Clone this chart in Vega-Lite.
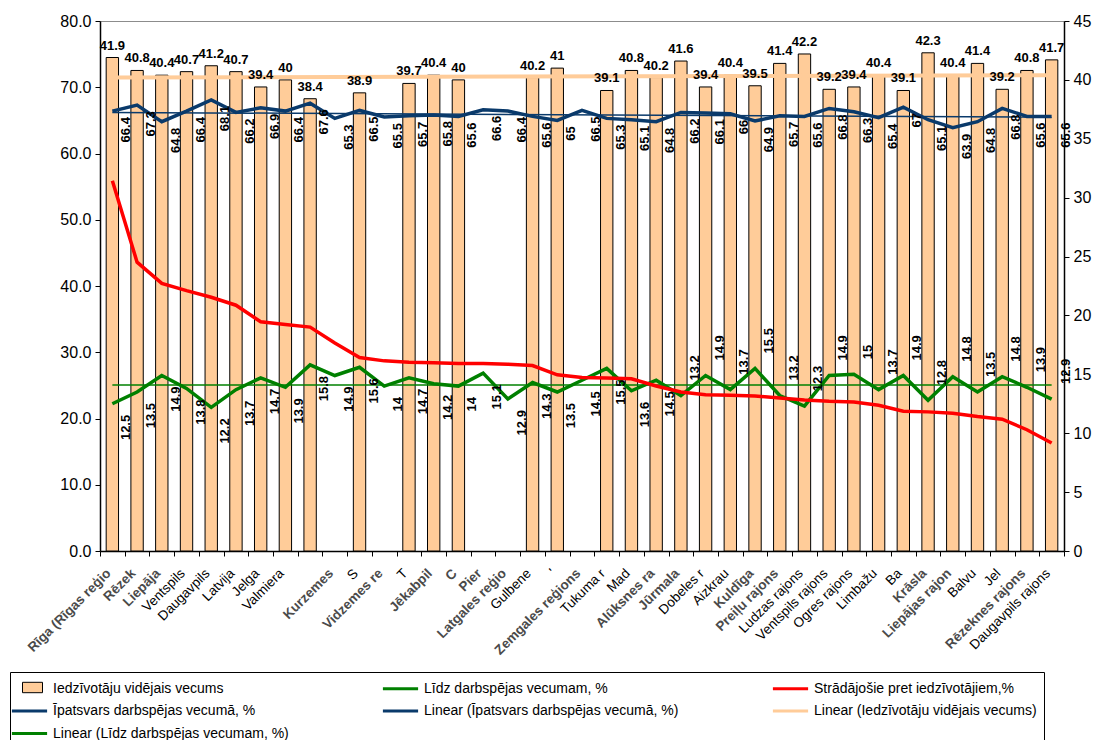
{
  "$schema": "https://vega.github.io/schema/vega-lite/v6.json",
  "width": 964,
  "height": 530,
  "autosize": {"type": "none"},
  "padding": {"left": 100, "top": 21, "right": 33, "bottom": 189},
  "config": {
    "font": "Liberation Sans",
    "view": {"stroke": "#8c8c8c"},
    "axis": {"grid": false, "domainColor": "#000", "tickColor": "#000", "labelColor": "#000", "domainWidth": 1.5}
  },
  "params": [
    {"name": "names", "value": ["Rīga (Rīgas reģions)", "Rēzekne", "Liepāja", "Ventspils", "Daugavpils", "Latvija", "Jelgava", "Valmieras rajons", "Rīgas rajons", "Kurzemes reģions", "Saldus rajons", "Vidzemes reģions", "Talsu rajons", "Jēkabpils rajons", "Cēsu rajons", "Pierīgas reģions", "Latgales reģions", "Gulbenes rajons", "Valkas rajons", "Zemgales reģions", "Tukuma rajons", "Madonas rajons", "Alūksnes rajons", "Jūrmala", "Dobeles rajons", "Aizkraukles rajons", "Kuldīgas rajons", "Preiļu rajons", "Ludzas rajons", "Ventspils rajons", "Ogres rajons", "Limbažu rajons", "Bauskas rajons", "Krāslavas rajons", "Liepājas rajons", "Balvu rajons", "Jelgavas rajons", "Rēzeknes rajons", "Daugavpils rajons"]},
    {"name": "vis", "value": [
      "Rīga (Rīgas reģio\u00a0\u00a0\u00a0\u00a0\u00a0\u00a0",
      "Rēzek\u00a0\u00a0\u00a0\u00a0\u00a0",
      "Liepāja",
      "Ventspils",
      "Daugavpils",
      "Latvija",
      "Jelga\u00a0\u00a0\u00a0\u00a0\u00a0",
      "Valmiera\u00a0\u00a0\u00a0\u00a0\u00a0\u00a0\u00a0\u00a0\u00a0\u00a0\u00a0\u00a0\u00a0\u00a0",
      "",
      "Kurzemes\u00a0\u00a0\u00a0\u00a0\u00a0\u00a0\u00a0\u00a0\u00a0\u00a0\u00a0\u00a0\u00a0",
      "S\u00a0\u00a0\u00a0\u00a0\u00a0\u00a0\u00a0\u00a0\u00a0\u00a0\u00a0\u00a0\u00a0\u00a0\u00a0\u00a0\u00a0\u00a0\u00a0\u00a0\u00a0",
      "Vidzemes re\u00a0\u00a0\u00a0\u00a0\u00a0\u00a0\u00a0\u00a0",
      "T\u00a0\u00a0\u00a0\u00a0\u00a0\u00a0\u00a0\u00a0\u00a0\u00a0\u00a0\u00a0\u00a0\u00a0\u00a0\u00a0\u00a0\u00a0\u00a0",
      "Jēkabpil\u00a0\u00a0\u00a0\u00a0\u00a0\u00a0\u00a0\u00a0\u00a0\u00a0\u00a0\u00a0",
      "C\u00a0\u00a0\u00a0\u00a0\u00a0\u00a0\u00a0\u00a0\u00a0\u00a0\u00a0\u00a0\u00a0\u00a0\u00a0\u00a0\u00a0\u00a0\u00a0",
      "Pier\u00a0\u00a0\u00a0\u00a0\u00a0\u00a0\u00a0\u00a0\u00a0\u00a0\u00a0\u00a0\u00a0\u00a0\u00a0\u00a0\u00a0\u00a0\u00a0",
      "Latgales reģio\u00a0\u00a0\u00a0",
      "Gulbene\u00a0\u00a0\u00a0\u00a0\u00a0\u00a0\u00a0\u00a0\u00a0\u00a0\u00a0\u00a0",
      "'\u00a0\u00a0\u00a0\u00a0\u00a0\u00a0\u00a0\u00a0\u00a0\u00a0\u00a0\u00a0\u00a0\u00a0\u00a0\u00a0\u00a0\u00a0\u00a0\u00a0\u00a0\u00a0",
      "Zemgales reģions",
      "Tukuma r\u00a0\u00a0\u00a0\u00a0\u00a0\u00a0\u00a0\u00a0\u00a0\u00a0",
      "Mad\u00a0\u00a0\u00a0\u00a0\u00a0\u00a0\u00a0\u00a0\u00a0\u00a0\u00a0\u00a0\u00a0\u00a0\u00a0\u00a0\u00a0\u00a0\u00a0\u00a0",
      "Alūksnes ra\u00a0\u00a0\u00a0\u00a0\u00a0\u00a0",
      "Jūrmala",
      "Dobeles r\u00a0\u00a0\u00a0\u00a0\u00a0\u00a0\u00a0\u00a0\u00a0",
      "Aizkrau\u00a0\u00a0\u00a0\u00a0\u00a0\u00a0\u00a0\u00a0\u00a0\u00a0\u00a0\u00a0\u00a0\u00a0\u00a0\u00a0\u00a0\u00a0",
      "Kuldīga\u00a0\u00a0\u00a0\u00a0\u00a0\u00a0\u00a0\u00a0\u00a0\u00a0\u00a0\u00a0\u00a0",
      "Preiļu rajons",
      "Ludzas rajons",
      "Ventspils rajons",
      "Ogres rajons",
      "Limbažu\u00a0\u00a0\u00a0\u00a0\u00a0\u00a0\u00a0\u00a0\u00a0",
      "Ba\u00a0\u00a0\u00a0\u00a0\u00a0\u00a0\u00a0\u00a0\u00a0\u00a0\u00a0\u00a0\u00a0\u00a0\u00a0\u00a0\u00a0\u00a0",
      "Krāsla\u00a0\u00a0\u00a0\u00a0\u00a0\u00a0\u00a0\u00a0\u00a0\u00a0\u00a0\u00a0\u00a0\u00a0\u00a0\u00a0\u00a0",
      "Liepājas rajon\u00a0",
      "Balvu\u00a0\u00a0\u00a0\u00a0\u00a0\u00a0\u00a0\u00a0\u00a0\u00a0",
      "Jel\u00a0\u00a0\u00a0\u00a0\u00a0\u00a0\u00a0\u00a0\u00a0\u00a0\u00a0\u00a0\u00a0\u00a0\u00a0\u00a0\u00a0\u00a0",
      "Rēzeknes rajons",
      "Daugavpils rajons"
    ]},
    {"name": "bold", "value": [0, 1, 2, 9, 11, 13, 14, 15, 16, 19, 22, 23, 26, 27, 33, 34, 37]}
  ],
  "data": {
    "values": [
      {"nr": 1, "vieta": "Rīga (Rīgas reģions)", "vecums": 41.9, "darbsp": 66.4, "lidz": 12.5, "strad": 55.9, "lin_vecums": 40.2, "lin_darbsp": 66.2, "lin_lidz": 14.1},
      {"nr": 2, "vieta": "Rēzekne", "vecums": 40.8, "darbsp": 67.3, "lidz": 13.5, "strad": 43.6},
      {"nr": 3, "vieta": "Liepāja", "vecums": 40.4, "darbsp": 64.8, "lidz": 14.9, "strad": 40.4},
      {"nr": 4, "vieta": "Ventspils", "vecums": 40.7, "darbsp": 66.4, "lidz": 13.8, "strad": 39.3},
      {"nr": 5, "vieta": "Daugavpils", "vecums": 41.2, "darbsp": 68.1, "lidz": 12.2, "strad": 38.3},
      {"nr": 6, "vieta": "Latvija", "vecums": 40.7, "darbsp": 66.2, "lidz": 13.7, "strad": 37.1},
      {"nr": 7, "vieta": "Jelgava", "vecums": 39.4, "darbsp": 66.9, "lidz": 14.7, "strad": 34.6},
      {"nr": 8, "vieta": "Valmieras rajons", "vecums": 40, "darbsp": 66.4, "lidz": 13.9, "strad": 34.2},
      {"nr": 9, "vieta": "Rīgas rajons", "vecums": 38.4, "darbsp": 67.6, "lidz": 15.8, "strad": 33.8},
      {"nr": 10, "vieta": "Kurzemes reģions", "vecums": null, "darbsp": 65.3, "lidz": 14.9, "strad": 31.4},
      {"nr": 11, "vieta": "Saldus rajons", "vecums": 38.9, "darbsp": 66.5, "lidz": 15.6, "strad": 29.2},
      {"nr": 12, "vieta": "Vidzemes reģions", "vecums": null, "darbsp": 65.5, "lidz": 14, "strad": 28.7},
      {"nr": 13, "vieta": "Talsu rajons", "vecums": 39.7, "darbsp": 65.7, "lidz": 14.7, "strad": 28.5},
      {"nr": 14, "vieta": "Jēkabpils rajons", "vecums": 40.4, "darbsp": 65.8, "lidz": 14.2, "strad": 28.4},
      {"nr": 15, "vieta": "Cēsu rajons", "vecums": 40, "darbsp": 65.6, "lidz": 14, "strad": 28.3},
      {"nr": 16, "vieta": "Pierīgas reģions", "vecums": null, "darbsp": 66.6, "lidz": 15.1, "strad": 28.3},
      {"nr": 17, "vieta": "Latgales reģions", "vecums": null, "darbsp": 66.4, "lidz": 12.9, "strad": 28.2},
      {"nr": 18, "vieta": "Gulbenes rajons", "vecums": 40.2, "darbsp": 65.6, "lidz": 14.3, "strad": 28.0},
      {"nr": 19, "vieta": "Valkas rajons", "vecums": 41, "darbsp": 65, "lidz": 13.5, "strad": 26.6},
      {"nr": 20, "vieta": "Zemgales reģions", "vecums": null, "darbsp": 66.5, "lidz": 14.5, "strad": 26.2},
      {"nr": 21, "vieta": "Tukuma rajons", "vecums": 39.1, "darbsp": 65.3, "lidz": 15.5, "strad": 26.1},
      {"nr": 22, "vieta": "Madonas rajons", "vecums": 40.8, "darbsp": 65.1, "lidz": 13.6, "strad": 26.0},
      {"nr": 23, "vieta": "Alūksnes rajons", "vecums": 40.2, "darbsp": 64.8, "lidz": 14.5, "strad": 24.9},
      {"nr": 24, "vieta": "Jūrmala", "vecums": 41.6, "darbsp": 66.2, "lidz": 13.2, "strad": 24.0},
      {"nr": 25, "vieta": "Dobeles rajons", "vecums": 39.4, "darbsp": 66.1, "lidz": 14.9, "strad": 23.6},
      {"nr": 26, "vieta": "Aizkraukles rajons", "vecums": 40.4, "darbsp": 66, "lidz": 13.7, "strad": 23.5},
      {"nr": 27, "vieta": "Kuldīgas rajons", "vecums": 39.5, "darbsp": 64.9, "lidz": 15.5, "strad": 23.4},
      {"nr": 28, "vieta": "Preiļu rajons", "vecums": 41.4, "darbsp": 65.7, "lidz": 13.2, "strad": 23.1},
      {"nr": 29, "vieta": "Ludzas rajons", "vecums": 42.2, "darbsp": 65.6, "lidz": 12.3, "strad": 22.8},
      {"nr": 30, "vieta": "Ventspils rajons", "vecums": 39.2, "darbsp": 66.8, "lidz": 14.9, "strad": 22.6},
      {"nr": 31, "vieta": "Ogres rajons", "vecums": 39.4, "darbsp": 66.3, "lidz": 15, "strad": 22.5},
      {"nr": 32, "vieta": "Limbažu rajons", "vecums": 40.4, "darbsp": 65.4, "lidz": 13.7, "strad": 22.0},
      {"nr": 33, "vieta": "Bauskas rajons", "vecums": 39.1, "darbsp": 67, "lidz": 14.9, "strad": 21.1},
      {"nr": 34, "vieta": "Krāslavas rajons", "vecums": 42.3, "darbsp": 65.1, "lidz": 12.8, "strad": 21.0},
      {"nr": 35, "vieta": "Liepājas rajons", "vecums": 40.4, "darbsp": 63.9, "lidz": 14.8, "strad": 20.8},
      {"nr": 36, "vieta": "Balvu rajons", "vecums": 41.4, "darbsp": 64.8, "lidz": 13.5, "strad": 20.3},
      {"nr": 37, "vieta": "Jelgavas rajons", "vecums": 39.2, "darbsp": 66.8, "lidz": 14.8, "strad": 19.9},
      {"nr": 38, "vieta": "Rēzeknes rajons", "vecums": 40.8, "darbsp": 65.6, "lidz": 13.9, "strad": 18.3},
      {"nr": 39, "vieta": "Daugavpils rajons", "vecums": 41.7, "darbsp": 65.6, "lidz": 12.9, "strad": 16.3, "lin_vecums": 40.4, "lin_darbsp": 65.5, "lin_lidz": 14.1}
    ]
  },
  "encoding": {
    "x": {
      "field": "vieta",
      "type": "nominal",
      "sort": null,
      "scale": {
        "type": "band", "paddingInner": 0, "paddingOuter": 0,
        "domain": ["Rīga (Rīgas reģions)", "Rēzekne", "Liepāja", "Ventspils", "Daugavpils", "Latvija", "Jelgava", "Valmieras rajons", "Rīgas rajons", "Kurzemes reģions", "Saldus rajons", "Vidzemes reģions", "Talsu rajons", "Jēkabpils rajons", "Cēsu rajons", "Pierīgas reģions", "Latgales reģions", "Gulbenes rajons", "Valkas rajons", "Zemgales reģions", "Tukuma rajons", "Madonas rajons", "Alūksnes rajons", "Jūrmala", "Dobeles rajons", "Aizkraukles rajons", "Kuldīgas rajons", "Preiļu rajons", "Ludzas rajons", "Ventspils rajons", "Ogres rajons", "Limbažu rajons", "Bauskas rajons", "Krāslavas rajons", "Liepājas rajons", "Balvu rajons", "Jelgavas rajons", "Rēzeknes rajons", "Daugavpils rajons"]
      },
      "axis": {
        "title": null,
        "labelAngle": -45,
        "labelAlign": "right",
        "labelBaseline": "top",
        "labelPadding": 10,
        "labelOffset": -9,
        "tickBand": "extent",
        "tickSize": 5,
        "labelFontSize": 13.5,
        "labelOverlap": false,
        "labelLimit": 400,
        "labelExpr": "vis[indexof(names, datum.value)]",
        "labelFontWeight": {"condition": {"test": "indexof(bold, indexof(names, datum.value)) >= 0", "value": "bold"}, "value": "normal"},
        "labelColor": {"condition": {"test": "indexof(bold, indexof(names, datum.value)) >= 0", "value": "#4a4a4a"}, "value": "#000"}
      }
    }
  },
  "layer": [
    {
      "layer": [
        {
          "transform": [{"filter": "isValid(datum.vecums)"}],
          "mark": {"type": "bar", "width": {"band": 0.5}, "stroke": "#000", "strokeWidth": 1},
          "encoding": {
            "y": {"field": "vecums", "type": "quantitative", "scale": {"domain": [0, 45]},
              "axis": {"orient": "right", "title": null, "values": [0, 5, 10, 15, 20, 25, 30, 35, 40, 45], "format": "d", "labelFontSize": 16, "tickSize": 5, "labelPadding": 4}},
            "fill": {
              "datum": "Iedzīvotāju vidējais vecums",
              "type": "nominal",
              "scale": {"domain": ["Iedzīvotāju vidējais vecums"], "range": ["#FFCC99"]},
              "legend": {
                "title": null,
                "orient": "none",
                "legendX": -90,
                "legendY": 651,
                "padding": 7,
                "symbolSize": 256,
                "symbolOffset": 3,
                "symbolType": "M-0.75,-0.65H1.75V0.65H-0.75Z",
                "symbolStrokeColor": "#000",
                "symbolStrokeWidth": 1,
                "labelOffset": 14,
                "labelFontSize": 14,
                "labelExpr": "''"
              }
            }
          }
        },
        {
          "mark": {"type": "line", "strokeWidth": 3.5},
          "encoding": {
            "y": {"field": "lidz", "type": "quantitative", "scale": {"domain": [0, 45]},
              "axis": {"orient": "right", "title": null, "values": [0, 5, 10, 15, 20, 25, 30, 35, 40, 45], "format": "d", "labelFontSize": 16, "tickSize": 5, "labelPadding": 4}},
            "stroke": {"datum": "Līdz darbspējas vecumam, %", "type": "nominal",
              "scale": {
                "domain": ["Iedzīvotāju vidējais vecums", "Līdz darbspējas vecumam, %", "Strādājošie pret iedzīvotājiem,%", "Īpatsvars darbspējas vecumā, %", "Linear (Īpatsvars darbspējas vecumā, %)", "Linear (Iedzīvotāju vidējais vecums)", "Linear (Līdz darbspējas vecumam, %)"],
                "range": ["transparent", "#008000", "#FF0000", "#0A3A6B", "#0A3A6B", "#FFCC99", "#008000"]
              },
              "legend": {
                "title": null,
                "orient": "none",
                "legendX": -90,
                "legendY": 651,
                "direction": "horizontal",
                "columns": 3,
                "columnPadding": 87,
                "rowPadding": 5.5,
                "symbolSize": 256,
                "symbolOffset": 3,
                "symbolType": "M-2.2,0H2.2",
                "symbolStrokeWidth": 3,
                "labelOffset": 14,
                "labelFontSize": 14,
                "labelColor": "#000",
                "labelLimit": 400,
                "strokeColor": "#000",
                "padding": 7
              }
            }
          }
        },
        {
          "transform": [{"filter": "isValid(datum.lin_vecums)"}],
          "mark": {"type": "line", "strokeWidth": 4},
          "encoding": {
            "y": {"field": "lin_vecums", "type": "quantitative", "scale": {"domain": [0, 45]},
              "axis": {"orient": "right", "title": null, "values": [0, 5, 10, 15, 20, 25, 30, 35, 40, 45], "format": "d", "labelFontSize": 16, "tickSize": 5, "labelPadding": 4}},
            "stroke": {"datum": "Linear (Iedzīvotāju vidējais vecums)", "type": "nominal", "legend": null,
              "scale": {
                "domain": ["Iedzīvotāju vidējais vecums", "Līdz darbspējas vecumam, %", "Strādājošie pret iedzīvotājiem,%", "Īpatsvars darbspējas vecumā, %", "Linear (Īpatsvars darbspējas vecumā, %)", "Linear (Iedzīvotāju vidējais vecums)", "Linear (Līdz darbspējas vecumam, %)"],
                "range": ["transparent", "#008000", "#FF0000", "#0A3A6B", "#0A3A6B", "#FFCC99", "#008000"]
              }}
          }
        },
        {
          "transform": [{"filter": "isValid(datum.lin_lidz)"}],
          "mark": {"type": "line", "strokeWidth": 1.5},
          "encoding": {
            "y": {"field": "lin_lidz", "type": "quantitative", "scale": {"domain": [0, 45]},
              "axis": {"orient": "right", "title": null, "values": [0, 5, 10, 15, 20, 25, 30, 35, 40, 45], "format": "d", "labelFontSize": 16, "tickSize": 5, "labelPadding": 4}},
            "stroke": {"datum": "Linear (Līdz darbspējas vecumam, %)", "type": "nominal", "legend": null,
              "scale": {
                "domain": ["Iedzīvotāju vidējais vecums", "Līdz darbspējas vecumam, %", "Strādājošie pret iedzīvotājiem,%", "Īpatsvars darbspējas vecumā, %", "Linear (Īpatsvars darbspējas vecumā, %)", "Linear (Iedzīvotāju vidējais vecums)", "Linear (Līdz darbspējas vecumam, %)"],
                "range": ["transparent", "#008000", "#FF0000", "#0A3A6B", "#0A3A6B", "#FFCC99", "#008000"]
              }}
          }
        },
        {
          "transform": [{"filter": "isValid(datum.vecums)"}],
          "mark": {"type": "text", "fontSize": 13, "fontWeight": "bold", "baseline": "bottom", "dy": -5, "color": "#000"},
          "encoding": {
            "y": {"field": "vecums", "type": "quantitative", "scale": {"domain": [0, 45]},
              "axis": {"orient": "right", "title": null, "values": [0, 5, 10, 15, 20, 25, 30, 35, 40, 45], "format": "d", "labelFontSize": 16, "tickSize": 5, "labelPadding": 4}},
            "text": {"field": "vecums", "type": "quantitative"}
          }
        },
        {
          "transform": [{"filter": "datum.nr <= 23"}],
          "mark": {"type": "text", "fontSize": 13, "fontWeight": "bold", "angle": 270, "align": "right", "baseline": "middle", "dx": -11, "dy": 14, "color": "#000"},
          "encoding": {
            "y": {"field": "lidz", "type": "quantitative", "scale": {"domain": [0, 45]},
              "axis": {"orient": "right", "title": null, "values": [0, 5, 10, 15, 20, 25, 30, 35, 40, 45], "format": "d", "labelFontSize": 16, "tickSize": 5, "labelPadding": 4}},
            "text": {"field": "lidz", "type": "quantitative"}
          }
        },
        {
          "transform": [{"filter": "datum.nr > 23"}],
          "mark": {"type": "text", "fontSize": 13, "fontWeight": "bold", "angle": 270, "align": "left", "baseline": "middle", "dx": 15, "dy": 14, "color": "#000"},
          "encoding": {
            "y": {"field": "lidz", "type": "quantitative", "scale": {"domain": [0, 45]},
              "axis": {"orient": "right", "title": null, "values": [0, 5, 10, 15, 20, 25, 30, 35, 40, 45], "format": "d", "labelFontSize": 16, "tickSize": 5, "labelPadding": 4}},
            "text": {"field": "lidz", "type": "quantitative"}
          }
        }
      ]
    },
    {
      "layer": [
        {
          "mark": {"type": "line", "strokeWidth": 3.5},
          "encoding": {
            "y": {"field": "strad", "type": "quantitative", "scale": {"domain": [0, 80]},
              "axis": {"orient": "left", "title": null, "values": [0, 10, 20, 30, 40, 50, 60, 70, 80], "format": ".1f", "labelFontSize": 16, "tickSize": 5, "labelPadding": 4}},
            "stroke": {"datum": "Strādājošie pret iedzīvotājiem,%", "type": "nominal", "legend": null,
              "scale": {
                "domain": ["Iedzīvotāju vidējais vecums", "Līdz darbspējas vecumam, %", "Strādājošie pret iedzīvotājiem,%", "Īpatsvars darbspējas vecumā, %", "Linear (Īpatsvars darbspējas vecumā, %)", "Linear (Iedzīvotāju vidējais vecums)", "Linear (Līdz darbspējas vecumam, %)"],
                "range": ["transparent", "#008000", "#FF0000", "#0A3A6B", "#0A3A6B", "#FFCC99", "#008000"]
              }}
          }
        },
        {
          "mark": {"type": "line", "strokeWidth": 3.5},
          "encoding": {
            "y": {"field": "darbsp", "type": "quantitative", "scale": {"domain": [0, 80]},
              "axis": {"orient": "left", "title": null, "values": [0, 10, 20, 30, 40, 50, 60, 70, 80], "format": ".1f", "labelFontSize": 16, "tickSize": 5, "labelPadding": 4}},
            "stroke": {"datum": "Īpatsvars darbspējas vecumā, %", "type": "nominal", "legend": null,
              "scale": {
                "domain": ["Iedzīvotāju vidējais vecums", "Līdz darbspējas vecumam, %", "Strādājošie pret iedzīvotājiem,%", "Īpatsvars darbspējas vecumā, %", "Linear (Īpatsvars darbspējas vecumā, %)", "Linear (Iedzīvotāju vidējais vecums)", "Linear (Līdz darbspējas vecumam, %)"],
                "range": ["transparent", "#008000", "#FF0000", "#0A3A6B", "#0A3A6B", "#FFCC99", "#008000"]
              }}
          }
        },
        {
          "transform": [{"filter": "isValid(datum.lin_darbsp)"}],
          "mark": {"type": "line", "strokeWidth": 1.5},
          "encoding": {
            "y": {"field": "lin_darbsp", "type": "quantitative", "scale": {"domain": [0, 80]},
              "axis": {"orient": "left", "title": null, "values": [0, 10, 20, 30, 40, 50, 60, 70, 80], "format": ".1f", "labelFontSize": 16, "tickSize": 5, "labelPadding": 4}},
            "stroke": {"datum": "Linear (Īpatsvars darbspējas vecumā, %)", "type": "nominal", "legend": null,
              "scale": {
                "domain": ["Iedzīvotāju vidējais vecums", "Līdz darbspējas vecumam, %", "Strādājošie pret iedzīvotājiem,%", "Īpatsvars darbspējas vecumā, %", "Linear (Īpatsvars darbspējas vecumā, %)", "Linear (Iedzīvotāju vidējais vecums)", "Linear (Līdz darbspējas vecumam, %)"],
                "range": ["transparent", "#008000", "#FF0000", "#0A3A6B", "#0A3A6B", "#FFCC99", "#008000"]
              }}
          }
        },
        {
          "mark": {"type": "text", "fontSize": 13, "fontWeight": "bold", "angle": 270, "align": "right", "baseline": "middle", "dx": -6, "dy": 14, "color": "#000"},
          "encoding": {
            "y": {"field": "darbsp", "type": "quantitative", "scale": {"domain": [0, 80]},
              "axis": {"orient": "left", "title": null, "values": [0, 10, 20, 30, 40, 50, 60, 70, 80], "format": ".1f", "labelFontSize": 16, "tickSize": 5, "labelPadding": 4}},
            "text": {"field": "darbsp", "type": "quantitative"}
          }
        }
      ]
    }
  ],
  "resolve": {"scale": {"y": "independent"}}
}
